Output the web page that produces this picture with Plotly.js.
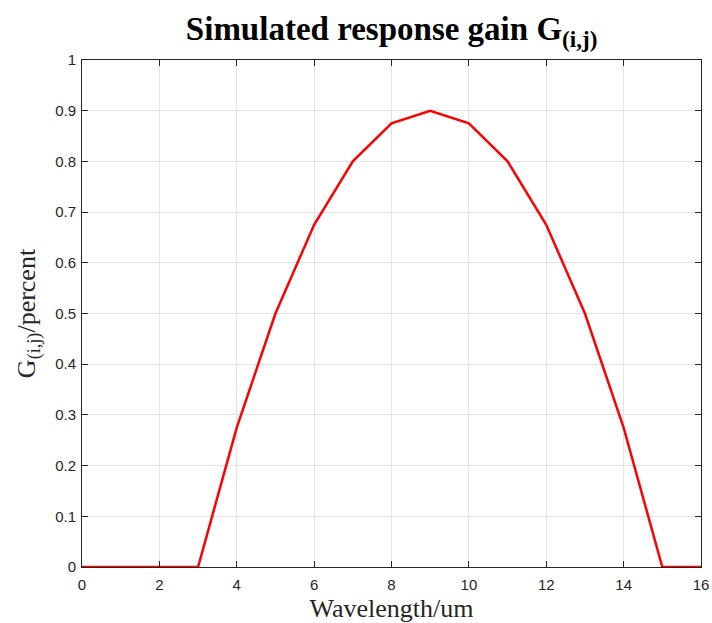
<!DOCTYPE html>
<html>
<head>
<meta charset="utf-8">
<script src="https://cdn.plot.ly/plotly-3.0.1.min.js"></script>
<style>html,body{margin:0;padding:0;background:#fff;}#chart{width:712px;height:623px;}</style>
</head>
<body>
<div id="chart"></div>
<script>
const wavelength = [0, 1, 2, 3, 4, 5, 6, 7, 8, 9, 10, 11, 12, 13, 14, 15, 16];
const gain = [0, 0, 0, 0, 0.275, 0.5, 0.675, 0.8, 0.875, 0.9, 0.875, 0.8, 0.675, 0.5, 0.275, 0, 0];
const xTicks = [0, 2, 4, 6, 8, 10, 12, 14, 16];
const yTicks = [0, 0.1, 0.2, 0.3, 0.4, 0.5, 0.6, 0.7, 0.8, 0.9, 1];
const yTickText = ['0', '0.1', '0.2', '0.3', '0.4', '0.5', '0.6', '0.7', '0.8', '0.9', '1'];

const trace = {
  x: wavelength, y: gain, type: 'scatter', mode: 'lines',
  line: {color: '#ff0000', width: 2.5}, hoverinfo: 'skip'
};

const axisCommon = {
  showline: true, linecolor: '#262626', linewidth: 1, mirror: 'ticks',
  ticks: 'inside', ticklen: 6, tickcolor: '#262626', tickwidth: 1,
  showgrid: true, gridcolor: '#e3e3e3', gridwidth: 1, zeroline: false,
  tickfont: {family: 'Liberation Sans, Arial, sans-serif', size: 15, color: '#262626'}
};

const layout = {
  width: 712, height: 623,
  margin: {l: 82, r: 11, t: 60, b: 56},
  paper_bgcolor: '#ffffff', plot_bgcolor: '#ffffff',
  showlegend: false,
  title: {
    text: '<b>Simulated response gain G<sub>(i,j)</sub></b>',
    font: {family: 'Liberation Serif, Times New Roman, serif', size: 33, color: '#000'},
    x: 0.55, xanchor: 'center', y: 0.955, yanchor: 'middle'
  },
  xaxis: Object.assign({}, axisCommon, {
    range: [0, 16], tickvals: xTicks, ticktext: xTicks.map(String),
    ticklabelstandoff: 4,
    title: {text: 'Wavelength/um', standoff: 6,
      font: {family: 'Liberation Serif, Times New Roman, serif', size: 26, color: '#262626'}}
  }),
  yaxis: Object.assign({}, axisCommon, {
    range: [0, 1], tickvals: yTicks, ticktext: yTickText,
    ticklabelstandoff: 2,
    title: {text: 'G<sub>(i,j)</sub>/percent', standoff: 12,
      font: {family: 'Liberation Serif, Times New Roman, serif', size: 26, color: '#262626'}}
  })
};

Plotly.newPlot('chart', [trace], layout, {displayModeBar: false, staticPlot: true});
</script>
</body>
</html>
